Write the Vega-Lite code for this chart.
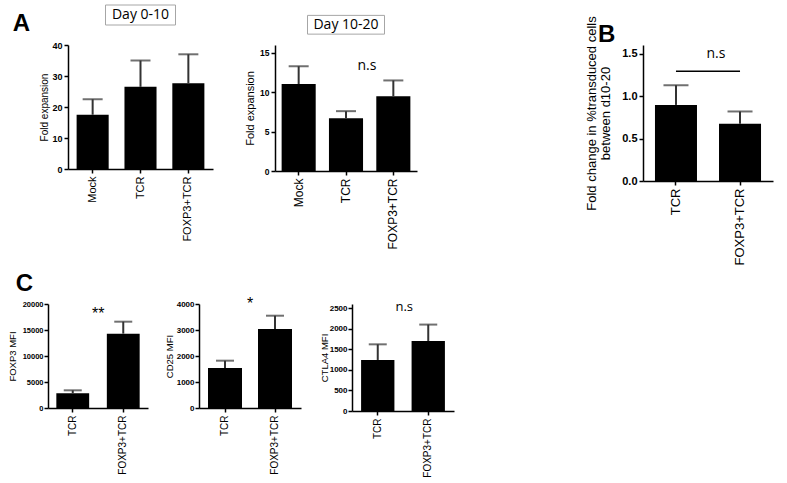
{
  "$schema": "https://vega.github.io/schema/vega-lite/v6.json",
  "background": "white",
  "padding": {"left": 7, "top": 4, "right": 5, "bottom": 5},
  "datasets": {
    "a1": [
      {"group": "Mock", "mean": 17.5, "upper": 22.5},
      {"group": "TCR", "mean": 26.5, "upper": 35},
      {"group": "FOXP3+TCR", "mean": 27.7, "upper": 37}
    ],
    "a2": [
      {"group": "Mock", "mean": 11.05, "upper": 13.3},
      {"group": "TCR", "mean": 6.7, "upper": 7.6},
      {"group": "FOXP3+TCR", "mean": 9.5, "upper": 11.5}
    ],
    "b": [
      {"group": "TCR", "mean": 0.895, "upper": 1.127},
      {"group": "FOXP3+TCR", "mean": 0.673, "upper": 0.818}
    ],
    "c1": [
      {"group": "TCR", "mean": 2850, "upper": 3400},
      {"group": "FOXP3+TCR", "mean": 14300, "upper": 16600}
    ],
    "c2": [
      {"group": "TCR", "mean": 1540, "upper": 1820},
      {"group": "FOXP3+TCR", "mean": 3040, "upper": 3550}
    ],
    "c3": [
      {"group": "TCR", "mean": 1240, "upper": 1620},
      {"group": "FOXP3+TCR", "mean": 1700, "upper": 2100}
    ]
  },
  "config": {
    "view": {"stroke": null},
    "font": "Liberation Sans",
    "axis": {
      "domainColor": "#000", "domainWidth": 1.5, "tickColor": "#000", "tickWidth": 1.5, "tickSize": 4,
      "labelColor": "#000", "titleColor": "#000", "titleFontWeight": "normal", "grid": false,
      "labelFont": "Liberation Sans", "titleFont": "Liberation Sans", "labelOverlap": false
    },
    "axisX": {"labelAngle": -90, "labelPadding": 3},
    "axisY": {"labelFontWeight": "bold", "labelPadding": 2}
  },
  "spacing": 7,
  "vconcat": [
    {
      "bounds": "flush",
      "spacing": 19,
      "hconcat": [
        {"width": 1, "height": 1, "data": {"values": [{}]}, "mark": {"type": "point", "opacity": 0}},
        {
          "width": 145, "height": 124,
          "layer": [
            {"data": {"name": "a1"}, "mark": {"type": "bar", "color": "#000"},
             "encoding": {
               "x": {"field": "group", "type": "nominal", "sort": null, "title": null, "scale": {"domain": ["Mock", "TCR", "FOXP3+TCR"], "paddingInner": 0.33, "paddingOuter": 0.18}, "axis": {"labelFontSize": 11}},
               "y": {"field": "mean", "type": "quantitative", "title": "Fold expansion", "scale": {"domain": [0, 40]}, "axis": {"values": [0, 10, 20, 30, 40], "labelFontSize": 9, "titleFontSize": 10, "titlePadding": 2}}
             }},
            {"data": {"name": "a1"}, "mark": {"type": "rule", "color": "#333", "strokeWidth": 2},
             "encoding": {
               "x": {"field": "group", "type": "nominal", "sort": null, "title": null, "axis": {"labelFontSize": 11}},
               "y": {"field": "mean", "type": "quantitative", "title": "Fold expansion", "axis": {"values": [0, 10, 20, 30, 40], "labelFontSize": 9, "titleFontSize": 10, "titlePadding": 2}},
               "y2": {"field": "upper"}}},
            {"data": {"name": "a1"}, "mark": {"type": "tick", "color": "#333", "thickness": 2},
             "encoding": {
               "x": {"field": "group", "type": "nominal", "sort": null, "title": null, "axis": {"labelFontSize": 11}},
               "y": {"field": "upper", "type": "quantitative", "title": "Fold expansion", "axis": {"values": [0, 10, 20, 30, 40], "labelFontSize": 9, "titleFontSize": 10, "titlePadding": 2}},
               "size": {"value": 20}}},
            {"data": {"values": [{}]}, "mark": {"type": "rect", "width": 70, "fill": "#fff", "stroke": "#a6a6a6", "strokeWidth": 1},
             "encoding": {
               "x": {"datum": "TCR", "title": null, "axis": {"labelFontSize": 11}},
               "y": {"datum": 52.9, "title": "Fold expansion", "axis": {"values": [0, 10, 20, 30, 40], "labelFontSize": 9, "titleFontSize": 10, "titlePadding": 2}},
               "y2": {"datum": 46.45}}},
            {"data": {"values": [{}]}, "mark": {"type": "text", "text": "Day 0-10", "font": "Open Sans", "fontSize": 14, "baseline": "middle", "color": "#000"},
             "encoding": {
               "x": {"datum": "TCR", "title": null, "axis": {"labelFontSize": 11}},
               "y": {"datum": 49.7, "title": "Fold expansion", "axis": {"values": [0, 10, 20, 30, 40], "labelFontSize": 9, "titleFontSize": 10, "titlePadding": 2}}}},
            {"data": {"values": [{}]}, "mark": {"type": "text", "text": "A", "fontSize": 24, "fontWeight": "bold", "align": "left", "baseline": "alphabetic", "dx": -80, "color": "#000"},
             "encoding": {
               "x": {"datum": "Mock", "title": null, "axis": {"labelFontSize": 11}},
               "y": {"datum": 44.5, "title": "Fold expansion", "axis": {"values": [0, 10, 20, 30, 40], "labelFontSize": 9, "titleFontSize": 10, "titlePadding": 2}}}}
          ]
        },
        {"width": 24, "height": 1, "data": {"values": [{}]}, "mark": {"type": "point", "opacity": 0}},
        {
          "width": 142, "height": 126,
          "layer": [
            {"data": {"name": "a2"}, "mark": {"type": "bar", "color": "#000"},
             "encoding": {
               "x": {"field": "group", "type": "nominal", "sort": null, "title": null, "scale": {"domain": ["Mock", "TCR", "FOXP3+TCR"], "paddingInner": 0.28, "paddingOuter": 0.14}, "axis": {"labelFontSize": 12}},
               "y": {"field": "mean", "type": "quantitative", "title": "Fold expansion", "scale": {"domain": [0, 15]}, "axis": {"values": [0, 5, 10, 15], "labelFontSize": 8.5, "titleFontSize": 11, "titlePadding": 4}}
             }},
            {"data": {"name": "a2"}, "mark": {"type": "rule", "color": "#333", "strokeWidth": 2},
             "encoding": {
               "x": {"field": "group", "type": "nominal", "sort": null, "title": null, "axis": {"labelFontSize": 12}},
               "y": {"field": "mean", "type": "quantitative", "title": "Fold expansion", "axis": {"values": [0, 5, 10, 15], "labelFontSize": 8.5, "titleFontSize": 11, "titlePadding": 4}},
               "y2": {"field": "upper"}}},
            {"data": {"name": "a2"}, "mark": {"type": "tick", "color": "#333", "thickness": 2},
             "encoding": {
               "x": {"field": "group", "type": "nominal", "sort": null, "title": null, "axis": {"labelFontSize": 12}},
               "y": {"field": "upper", "type": "quantitative", "title": "Fold expansion", "axis": {"values": [0, 5, 10, 15], "labelFontSize": 8.5, "titleFontSize": 11, "titlePadding": 4}},
               "size": {"value": 20}}},
            {"data": {"values": [{}]}, "mark": {"type": "rect", "width": 77, "fill": "#fff", "stroke": "#a6a6a6", "strokeWidth": 1},
             "encoding": {
               "x": {"datum": "TCR", "title": null, "axis": {"labelFontSize": 12}},
               "y": {"datum": 19.76, "title": "Fold expansion", "axis": {"values": [0, 5, 10, 15], "labelFontSize": 8.5, "titleFontSize": 11, "titlePadding": 4}},
               "y2": {"datum": 17.38}}},
            {"data": {"values": [{}]}, "mark": {"type": "text", "text": "Day 10-20", "font": "Open Sans", "fontSize": 14, "baseline": "middle", "color": "#000"},
             "encoding": {
               "x": {"datum": "TCR", "title": null, "axis": {"labelFontSize": 12}},
               "y": {"datum": 18.57, "title": "Fold expansion", "axis": {"values": [0, 5, 10, 15], "labelFontSize": 8.5, "titleFontSize": 11, "titlePadding": 4}}}},
            {"data": {"values": [{}]}, "mark": {"type": "text", "text": "n.s", "font": "Open Sans", "fontSize": 14, "baseline": "alphabetic", "dx": 21, "color": "#000"},
             "encoding": {
               "x": {"datum": "TCR", "title": null, "axis": {"labelFontSize": 12}},
               "y": {"datum": 12.86, "title": "Fold expansion", "axis": {"values": [0, 5, 10, 15], "labelFontSize": 8.5, "titleFontSize": 11, "titlePadding": 4}}}}
          ]
        },
        {"width": 188, "height": 1, "data": {"values": [{}]}, "mark": {"type": "point", "opacity": 0}},
        {
          "width": 130, "height": 136,
          "layer": [
            {"data": {"name": "b"}, "mark": {"type": "bar", "color": "#000"},
             "encoding": {
               "x": {"field": "group", "type": "nominal", "sort": null, "title": null, "scale": {"domain": ["TCR", "FOXP3+TCR"], "paddingInner": 0.344, "paddingOuter": 0.187}, "axis": {"labelFontSize": 13}},
               "y": {"field": "mean", "type": "quantitative", "title": ["Fold change in %transduced cells", "between d10-20"], "scale": {"domain": [0, 1.5]}, "axis": {"values": [0, 0.5, 1, 1.5], "format": ".1f", "labelFontSize": 11, "titleFontSize": 13, "titleLineHeight": 14, "titlePadding": 9}}
             }},
            {"data": {"name": "b"}, "mark": {"type": "rule", "color": "#333", "strokeWidth": 2},
             "encoding": {
               "x": {"field": "group", "type": "nominal", "sort": null, "title": null, "axis": {"labelFontSize": 13}},
               "y": {"field": "mean", "type": "quantitative", "title": ["Fold change in %transduced cells", "between d10-20"], "axis": {"values": [0, 0.5, 1, 1.5], "format": ".1f", "labelFontSize": 11, "titleFontSize": 13, "titleLineHeight": 14, "titlePadding": 9}},
               "y2": {"field": "upper"}}},
            {"data": {"name": "b"}, "mark": {"type": "tick", "color": "#333", "thickness": 2},
             "encoding": {
               "x": {"field": "group", "type": "nominal", "sort": null, "title": null, "axis": {"labelFontSize": 13}},
               "y": {"field": "upper", "type": "quantitative", "title": ["Fold change in %transduced cells", "between d10-20"], "axis": {"values": [0, 0.5, 1, 1.5], "format": ".1f", "labelFontSize": 11, "titleFontSize": 13, "titleLineHeight": 14, "titlePadding": 9}},
               "size": {"value": 25}}},
            {"data": {"values": [{}]}, "mark": {"type": "rule", "color": "#000", "strokeWidth": 1.5},
             "encoding": {
               "x": {"datum": "TCR", "bandPosition": 0.5, "title": null, "axis": {"labelFontSize": 13}},
               "x2": {"datum": "FOXP3+TCR", "bandPosition": 0.5},
               "y": {"datum": 1.29, "title": ["Fold change in %transduced cells", "between d10-20"], "axis": {"values": [0, 0.5, 1, 1.5], "format": ".1f", "labelFontSize": 11, "titleFontSize": 13, "titleLineHeight": 14, "titlePadding": 9}}}},
            {"data": {"values": [{}]}, "mark": {"type": "text", "text": "n.s", "font": "Open Sans", "fontSize": 14, "baseline": "alphabetic", "dx": 40, "color": "#000"},
             "encoding": {
               "x": {"datum": "TCR", "title": null, "axis": {"labelFontSize": 13}},
               "y": {"datum": 1.445, "title": ["Fold change in %transduced cells", "between d10-20"], "axis": {"values": [0, 0.5, 1, 1.5], "format": ".1f", "labelFontSize": 11, "titleFontSize": 13, "titleLineHeight": 14, "titlePadding": 9}}}},
            {"data": {"values": [{}]}, "mark": {"type": "text", "text": "B", "fontSize": 24, "fontWeight": "bold", "align": "left", "baseline": "alphabetic", "dx": -78, "color": "#000"},
             "encoding": {
               "x": {"datum": "TCR", "title": null, "axis": {"labelFontSize": 13}},
               "y": {"datum": 1.632, "title": ["Fold change in %transduced cells", "between d10-20"], "axis": {"values": [0, 0.5, 1, 1.5], "format": ".1f", "labelFontSize": 11, "titleFontSize": 13, "titleLineHeight": 14, "titlePadding": 9}}}}
          ]
        }
      ]
    },
    {
      "bounds": "flush",
      "spacing": 51,
      "hconcat": [
        {
          "width": 100, "height": 104,
          "layer": [
            {"data": {"name": "c1"}, "mark": {"type": "bar", "color": "#000"},
             "encoding": {
               "x": {"field": "group", "type": "nominal", "sort": null, "title": null, "scale": {"domain": ["TCR", "FOXP3+TCR"], "paddingInner": 0.35, "paddingOuter": 0.165}, "axis": {"labelFontSize": 10}},
               "y": {"field": "mean", "type": "quantitative", "title": "FOXP3 MFI", "scale": {"domain": [0, 20000]}, "axis": {"values": [0, 5000, 10000, 15000, 20000], "format": "d", "labelFontSize": 7.5, "labelPadding": 1, "titleFontSize": 9.5, "titlePadding": 5}}
             }},
            {"data": {"name": "c1"}, "mark": {"type": "rule", "color": "#333", "strokeWidth": 2},
             "encoding": {
               "x": {"field": "group", "type": "nominal", "sort": null, "title": null, "axis": {"labelFontSize": 10}},
               "y": {"field": "mean", "type": "quantitative", "title": "FOXP3 MFI", "axis": {"values": [0, 5000, 10000, 15000, 20000], "format": "d", "labelFontSize": 7.5, "labelPadding": 1, "titleFontSize": 9.5, "titlePadding": 5}},
               "y2": {"field": "upper"}}},
            {"data": {"name": "c1"}, "mark": {"type": "tick", "color": "#333", "thickness": 2},
             "encoding": {
               "x": {"field": "group", "type": "nominal", "sort": null, "title": null, "axis": {"labelFontSize": 10}},
               "y": {"field": "upper", "type": "quantitative", "title": "FOXP3 MFI", "axis": {"values": [0, 5000, 10000, 15000, 20000], "format": "d", "labelFontSize": 7.5, "labelPadding": 1, "titleFontSize": 9.5, "titlePadding": 5}},
               "size": {"value": 18}}},
            {"data": {"values": [{}]}, "mark": {"type": "text", "text": "**", "fontSize": 16, "baseline": "top", "dx": -25, "color": "#000"},
             "encoding": {
               "x": {"datum": "FOXP3+TCR", "title": null, "axis": {"labelFontSize": 10}},
               "y": {"datum": 19600, "title": "FOXP3 MFI", "axis": {"values": [0, 5000, 10000, 15000, 20000], "format": "d", "labelFontSize": 7.5, "labelPadding": 1, "titleFontSize": 9.5, "titlePadding": 5}}}},
            {"data": {"values": [{}]}, "mark": {"type": "text", "text": "C", "fontSize": 24, "fontWeight": "bold", "align": "left", "baseline": "alphabetic", "dx": -57, "color": "#000"},
             "encoding": {
               "x": {"datum": "TCR", "title": null, "axis": {"labelFontSize": 10}},
               "y": {"datum": 22500, "title": "FOXP3 MFI", "axis": {"values": [0, 5000, 10000, 15000, 20000], "format": "d", "labelFontSize": 7.5, "labelPadding": 1, "titleFontSize": 9.5, "titlePadding": 5}}}}
          ]
        },
        {
          "width": 102, "height": 104,
          "layer": [
            {"data": {"name": "c2"}, "mark": {"type": "bar", "color": "#000"},
             "encoding": {
               "x": {"field": "group", "type": "nominal", "sort": null, "title": null, "scale": {"domain": ["TCR", "FOXP3+TCR"], "paddingInner": 0.32, "paddingOuter": 0.18}, "axis": {"labelFontSize": 10}},
               "y": {"field": "mean", "type": "quantitative", "title": "CD25 MFI", "scale": {"domain": [0, 4000]}, "axis": {"values": [0, 1000, 2000, 3000, 4000], "format": "d", "labelFontSize": 8, "labelPadding": 1, "titleFontSize": 9.5, "titlePadding": 2}}
             }},
            {"data": {"name": "c2"}, "mark": {"type": "rule", "color": "#333", "strokeWidth": 2},
             "encoding": {
               "x": {"field": "group", "type": "nominal", "sort": null, "title": null, "axis": {"labelFontSize": 10}},
               "y": {"field": "mean", "type": "quantitative", "title": "CD25 MFI", "axis": {"values": [0, 1000, 2000, 3000, 4000], "format": "d", "labelFontSize": 8, "labelPadding": 1, "titleFontSize": 9.5, "titlePadding": 2}},
               "y2": {"field": "upper"}}},
            {"data": {"name": "c2"}, "mark": {"type": "tick", "color": "#333", "thickness": 2},
             "encoding": {
               "x": {"field": "group", "type": "nominal", "sort": null, "title": null, "axis": {"labelFontSize": 10}},
               "y": {"field": "upper", "type": "quantitative", "title": "CD25 MFI", "axis": {"values": [0, 1000, 2000, 3000, 4000], "format": "d", "labelFontSize": 8, "labelPadding": 1, "titleFontSize": 9.5, "titlePadding": 2}},
               "size": {"value": 18}}},
            {"data": {"values": [{}]}, "mark": {"type": "text", "text": "*", "fontSize": 16, "baseline": "top", "dx": -25, "color": "#000"},
             "encoding": {
               "x": {"datum": "FOXP3+TCR", "title": null, "axis": {"labelFontSize": 10}},
               "y": {"datum": 4300, "title": "CD25 MFI", "axis": {"values": [0, 1000, 2000, 3000, 4000], "format": "d", "labelFontSize": 8, "labelPadding": 1, "titleFontSize": 9.5, "titlePadding": 2}}}}
          ]
        },
        {
          "width": 102, "height": 107,
          "layer": [
            {"data": {"name": "c3"}, "mark": {"type": "bar", "color": "#000"},
             "encoding": {
               "x": {"field": "group", "type": "nominal", "sort": null, "title": null, "scale": {"domain": ["TCR", "FOXP3+TCR"], "paddingInner": 0.34, "paddingOuter": 0.18}, "axis": {"labelFontSize": 10}},
               "y": {"field": "mean", "type": "quantitative", "title": "CTLA4 MFI", "scale": {"domain": [0, 2500]}, "axis": {"values": [0, 500, 1000, 1500, 2000, 2500], "format": "d", "labelFontSize": 8, "labelPadding": 1, "titleFontSize": 9.5, "titlePadding": 0}}
             }},
            {"data": {"name": "c3"}, "mark": {"type": "rule", "color": "#333", "strokeWidth": 2},
             "encoding": {
               "x": {"field": "group", "type": "nominal", "sort": null, "title": null, "axis": {"labelFontSize": 10}},
               "y": {"field": "mean", "type": "quantitative", "title": "CTLA4 MFI", "axis": {"values": [0, 500, 1000, 1500, 2000, 2500], "format": "d", "labelFontSize": 8, "labelPadding": 1, "titleFontSize": 9.5, "titlePadding": 0}},
               "y2": {"field": "upper"}}},
            {"data": {"name": "c3"}, "mark": {"type": "tick", "color": "#333", "thickness": 2},
             "encoding": {
               "x": {"field": "group", "type": "nominal", "sort": null, "title": null, "axis": {"labelFontSize": 10}},
               "y": {"field": "upper", "type": "quantitative", "title": "CTLA4 MFI", "axis": {"values": [0, 500, 1000, 1500, 2000, 2500], "format": "d", "labelFontSize": 8, "labelPadding": 1, "titleFontSize": 9.5, "titlePadding": 0}},
               "size": {"value": 18}}},
            {"data": {"values": [{}]}, "mark": {"type": "text", "text": "n.s", "font": "Open Sans", "fontSize": 13, "baseline": "alphabetic", "dx": -24, "color": "#000"},
             "encoding": {
               "x": {"datum": "FOXP3+TCR", "title": null, "axis": {"labelFontSize": 10}},
               "y": {"datum": 2430, "title": "CTLA4 MFI", "axis": {"values": [0, 500, 1000, 1500, 2000, 2500], "format": "d", "labelFontSize": 8, "labelPadding": 1, "titleFontSize": 9.5, "titlePadding": 0}}}}
          ]
        }
      ]
    }
  ]
}
